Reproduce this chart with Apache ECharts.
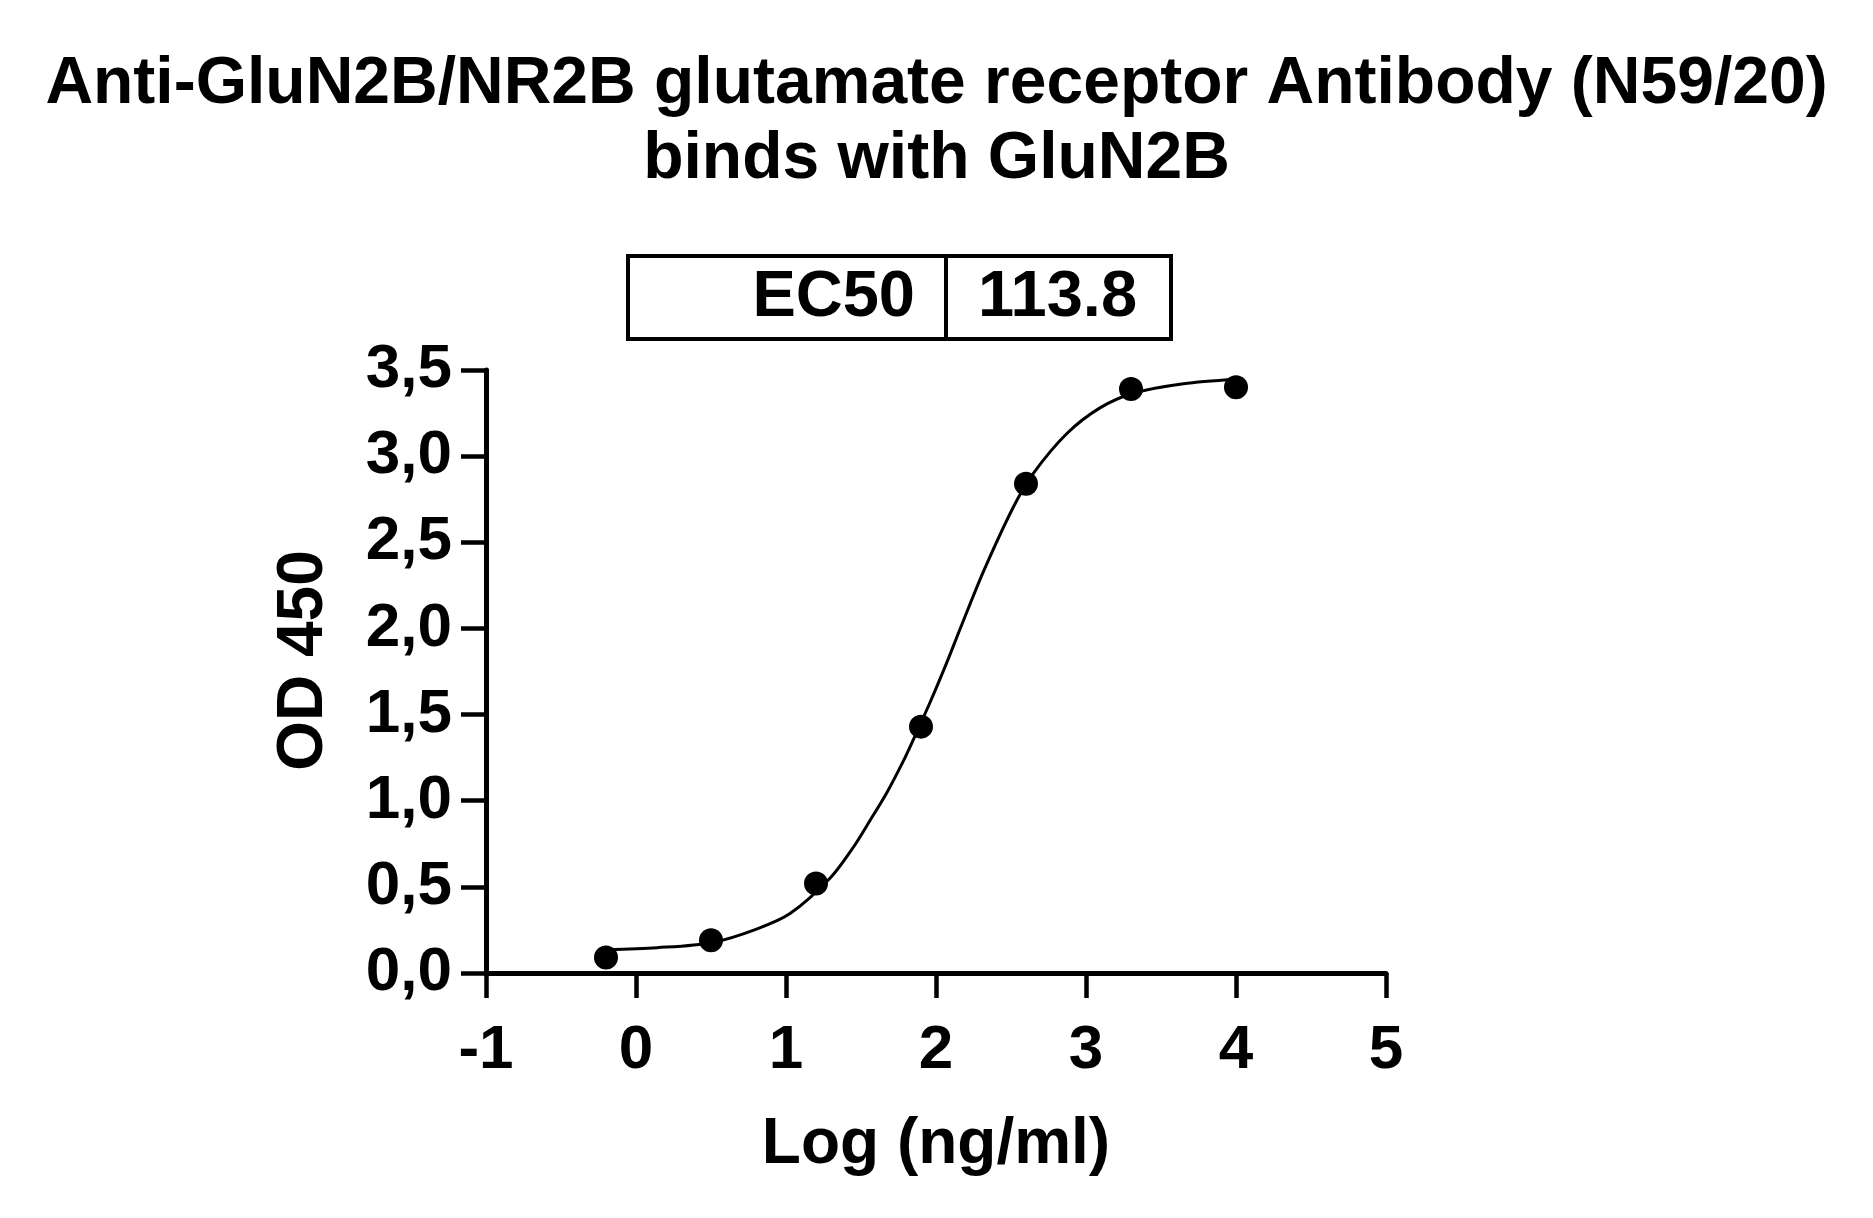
<!DOCTYPE html>
<html>
<head>
<meta charset="utf-8">
<script src="https://cdn.jsdelivr.net/npm/echarts@6/dist/echarts.min.js"></script>
<style>
html,body{margin:0;padding:0;background:#fff;}
#c{width:1873px;height:1218px;}
</style>
</head>
<body>
<div id="c"></div>
<script>
const titleLines = ['Anti-GluN2B/NR2B glutamate receptor Antibody (N59/20)', 'binds with GluN2B'];
const xAxisTitle = 'Log (ng/ml)';
const yAxisTitle = 'OD 450';
const ec50Label = 'EC50';
const ec50Value = '113.8';

// measured points (log concentration, OD450)
const pointX = [-0.2, 0.5, 1.2, 1.9, 2.6, 3.3, 4.0];
const pointY = [0.09, 0.19, 0.52, 1.43, 2.84, 3.39, 3.40];

// fitted curve
const curveX = [-0.2, 0.14, 0.505, 0.804, 1.027, 1.293, 1.449, 1.56, 1.671, 1.782, 1.849, 1.96, 2.071, 2.171, 2.316, 2.516, 2.649, 2.871, 3.093, 3.316, 3.649, 4.0];
const curveY = [0.135, 0.147, 0.176, 0.255, 0.345, 0.55, 0.73, 0.885, 1.045, 1.23, 1.355, 1.57, 1.80, 2.02, 2.33, 2.705, 2.90, 3.13, 3.28, 3.365, 3.42, 3.446];

const FONT = '"Liberation Sans", Arial, Helvetica, sans-serif';

const chart = echarts.init(document.getElementById('c'));
chart.setOption({
  backgroundColor: '#fff',
  animation: false,
  title: {
    text: titleLines.join('\n'),
    left: 'center',
    top: 42,
    textStyle: {fontFamily: FONT, fontWeight: 'bold', fontSize: 66, lineHeight: 75, color: '#000'}
  },
  grid: {left: 486, right: 487, top: 370, bottom: 245, containLabel: false},
  xAxis: {
    type: 'value', min: -1, max: 5, interval: 1,
    name: xAxisTitle, nameLocation: 'middle', nameGap: 140,
    nameTextStyle: {fontFamily: FONT, fontWeight: 'bold', fontSize: 64, color: '#000'},
    axisLine: {show: true, onZero: false, lineStyle: {color: '#000', width: 5}},
    axisTick: {show: true, length: 25, lineStyle: {color: '#000', width: 4.5}},
    axisLabel: {fontFamily: FONT, fontWeight: 'bold', fontSize: 62, color: '#000', margin: 47},
    splitLine: {show: false}
  },
  yAxis: {
    type: 'value', min: 0, max: 3.5, interval: 0.5,
    name: yAxisTitle, nameLocation: 'middle', nameGap: 150, nameRotate: 90,
    nameTextStyle: {fontFamily: FONT, fontWeight: 'bold', fontSize: 64, color: '#000', padding: [0, 0, 0, 22]},
    axisLine: {show: true, onZero: false, lineStyle: {color: '#000', width: 5}},
    axisTick: {show: true, length: 25, lineStyle: {color: '#000', width: 4.5}},
    axisLabel: {fontFamily: FONT, fontWeight: 'bold', fontSize: 62, color: '#000', margin: 34,
      formatter: v => v.toFixed(1).replace('.', ',')},
    splitLine: {show: false}
  },
  graphic: [
    {type: 'rect', shape: {x: 628, y: 256, width: 543, height: 83}, style: {fill: '#fff', stroke: '#000', lineWidth: 4}},
    {type: 'line', shape: {x1: 946, y1: 256, x2: 946, y2: 339}, style: {stroke: '#000', lineWidth: 4}},
    {type: 'text', x: 915, y: 298, style: {text: ec50Label, font: 'bold 65px ' + FONT, fill: '#000', textAlign: 'right', textVerticalAlign: 'middle'}},
    {type: 'text', x: 978, y: 298, style: {text: ec50Value, font: 'bold 65px ' + FONT, fill: '#000', textAlign: 'left', textVerticalAlign: 'middle'}}
  ],
  series: [
    {
      type: 'line', data: curveX.map((x, i) => [x, curveY[i]]),
      smooth: 0.3, showSymbol: false, symbol: 'none',
      lineStyle: {color: '#000', width: 3}, z: 2
    },
    {
      type: 'scatter', data: pointX.map((x, i) => [x, pointY[i]]),
      symbol: 'circle', symbolSize: 24,
      itemStyle: {color: '#000', opacity: 1}, z: 3
    }
  ]
});
</script>
</body>
</html>
